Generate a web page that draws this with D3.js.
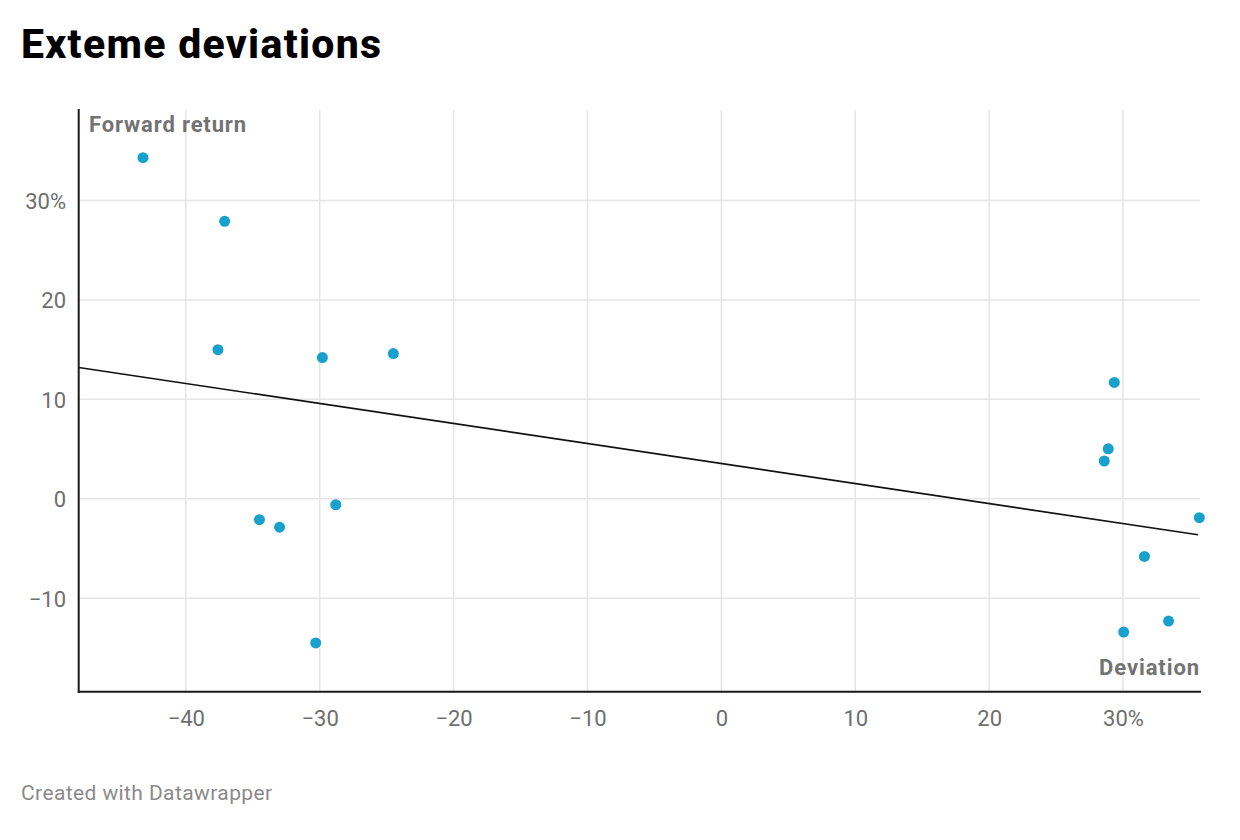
<!DOCTYPE html>
<html>
<head>
<meta charset="utf-8">
<script src="https://cdn.jsdelivr.net/npm/d3@7"></script>
<style>
  html, body { margin: 0; padding: 0; background: #fff; }
  svg { display: block; font-family: Roboto, "Noto Sans", sans-serif; }
</style>
</head>
<body>
<svg id="chart" width="1240" height="840"></svg>
<script>
// ---- data ----
const deviation = [-43.2, -37.1, -37.6, -29.8, -24.5, -34.5, -33.0, -28.8, -30.3,
                   29.35, 28.9, 28.6, 35.7, 31.6, 33.4, 30.05];
const forwardReturn = [34.3, 27.9, 15.0, 14.2, 14.6, -2.1, -2.85, -0.6, -14.5,
                       11.7, 5.03, 3.8, -1.9, -5.8, -12.3, -13.4];
const xTicks = [-40, -30, -20, -10, 0, 10, 20, 30];
const yTicks = [-10, 0, 10, 20, 30];
const xDomain = [-48, 35.75];
const yDomain = [-19.4, 39.2];
const titleText = "Exteme deviations";
const yLabelText = "Forward return";
const xLabelText = "Deviation";
const footerText = "Created with Datawrapper";

// ---- layout ----
const svg = d3.select("#chart");
const pLeft = 78.7, pRight = 1200, pTop = 109, pBottom = 691.7;

const x = d3.scaleLinear().domain(xDomain).range([pLeft, pRight]);
const y = d3.scaleLinear().domain(yDomain).range([pBottom, pTop]);

const fmt = d => (d === 30 ? "30%" : String(d).replace("-", "\u2212"));

// title
svg.append("text")
  .attr("x", 21).attr("y", 58)
  .attr("font-size", 41).attr("font-weight", 800).attr("fill", "#000")
  .attr("letter-spacing", 1.3)
  .text(titleText);

// gridlines
const grid = svg.append("g");
grid.selectAll("line.v").data(xTicks).join("line").attr("class", "v")
  .attr("x1", d => x(d)).attr("x2", d => x(d))
  .attr("y1", pTop + 1).attr("y2", pBottom)
  .attr("stroke", "#e5e5e5").attr("stroke-width", 1.5);
grid.selectAll("line.h").data(yTicks).join("line").attr("class", "h")
  .attr("x1", pLeft).attr("x2", pRight)
  .attr("y1", d => y(d)).attr("y2", d => y(d))
  .attr("stroke", "#e5e5e5").attr("stroke-width", 1.5);

// axes via d3 axis generators (labels only)
const xAxis = d3.axisBottom(x).tickValues(xTicks).tickFormat(fmt).tickSize(0).tickPadding(0);
const gx = svg.append("g").attr("transform", `translate(0,${pBottom})`).call(xAxis);
gx.select(".domain").remove();
gx.selectAll("text")
  .attr("y", 34).attr("dy", null)
  .attr("font-size", 22).attr("fill", "#6e6e6e")
  .attr("font-family", "Roboto, 'Noto Sans', sans-serif");

const yAxis = d3.axisLeft(y).tickValues(yTicks).tickFormat(fmt).tickSize(0).tickPadding(0);
const gy = svg.append("g").attr("transform", `translate(66,0)`).call(yAxis);
gy.select(".domain").remove();
gy.selectAll("text")
  .attr("x", 0).attr("dy", "0.36em")
  .attr("font-size", 22).attr("fill", "#6e6e6e")
  .attr("font-family", "Roboto, 'Noto Sans', sans-serif");

// regression line (ordinary least squares)
const n = deviation.length;
const mx = d3.mean(deviation), my = d3.mean(forwardReturn);
let sxy = 0, sxx = 0;
for (let i = 0; i < n; i++) {
  sxy += (deviation[i] - mx) * (forwardReturn[i] - my);
  sxx += (deviation[i] - mx) ** 2;
}
const slope = sxy / sxx, intercept = my - slope * mx;
const lineX = [xDomain[0], d3.max(deviation) - 0.1];
svg.append("path")
  .datum(lineX.map(v => [v, intercept + slope * v]))
  .attr("d", d3.line().x(d => x(d[0])).y(d => y(d[1])))
  .attr("fill", "none").attr("stroke", "#111").attr("stroke-width", 1.6);

// axis lines
svg.append("line").attr("x1", pLeft).attr("x2", pLeft).attr("y1", pTop).attr("y2", pBottom + 1)
  .attr("stroke", "#1a1a1a").attr("stroke-width", 2);
svg.append("line").attr("x1", pLeft - 1).attr("x2", pRight + 1).attr("y1", pBottom).attr("y2", pBottom)
  .attr("stroke", "#1a1a1a").attr("stroke-width", 2);

// points
svg.append("g").selectAll("circle").data(deviation).join("circle")
  .attr("cx", d => x(d))
  .attr("cy", (d, i) => y(forwardReturn[i]))
  .attr("r", 5.5)
  .attr("fill", "#18a1cd");

// axis titles
svg.append("text").attr("x", 89).attr("y", 132)
  .attr("font-size", 22).attr("font-weight", 700).attr("fill", "#737373")
  .attr("letter-spacing", 0.85)
  .text(yLabelText);
svg.append("text").attr("x", 1200).attr("y", 675).attr("text-anchor", "end")
  .attr("font-size", 22).attr("font-weight", 700).attr("fill", "#737373")
  .attr("letter-spacing", 0.9)
  .text(xLabelText);

// footer
svg.append("text").attr("x", 21).attr("y", 800)
  .attr("font-size", 21).attr("fill", "#8a8a8a")
  .attr("letter-spacing", 0.4)
  .text(footerText);
</script>
</body>
</html>
